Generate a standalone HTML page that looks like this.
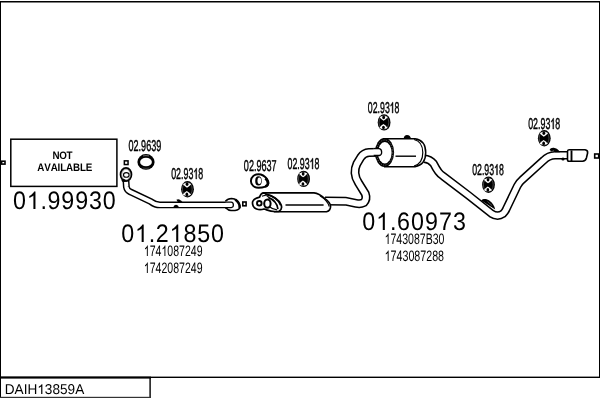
<!DOCTYPE html>
<html><head><meta charset="utf-8">
<style>
html,body{margin:0;padding:0;background:#fff;width:600px;height:400px;overflow:hidden}
svg{position:absolute;left:0;top:0;display:block;will-change:transform}
text{font-family:"Liberation Sans",sans-serif;fill:#000;text-rendering:geometricPrecision}
.lb{stroke:#000;stroke-width:0.45}
.lbp{stroke:#000;stroke-width:0.45;vector-effect:non-scaling-stroke}
</style></head><body>
<svg width="600" height="400" viewBox="0 0 600 400">
<!-- frame -->
<rect x="0" y="1" width="600" height="1.5" fill="#000"/>
<rect x="0" y="1" width="1" height="397" fill="#000"/>
<rect x="599" y="1" width="1" height="377" fill="#000"/>
<rect x="0" y="376.6" width="600" height="1.4" fill="#000"/>
<!-- bottom label box -->
<rect x="0" y="376.6" width="151" height="2" fill="#000"/>
<rect x="149.4" y="377" width="1.4" height="21" fill="#000"/>
<rect x="0" y="396.8" width="150.8" height="1.2" fill="#333"/>

<!-- NOT AVAILABLE box -->
<rect x="10.8" y="139.2" width="106.1" height="47.2" fill="none" stroke="#000" stroke-width="1.5"/>
<rect x="1.6" y="161.2" width="3.4" height="2.9" fill="none" stroke="#000" stroke-width="1.6"/>
<rect x="124.35" y="160.85" width="3.7" height="3.7" fill="none" stroke="#000" stroke-width="1.5"/>

<!--TEXT-->
<text transform="scale(0.92,1)" x="14.07 29.10 44.14 51.66 66.69 81.73 96.77 111.81" y="209" font-size="25.3">0 .99930</text>
<path transform="translate(26.78,209) scale(0.01137,0.01235)" d="M763,-0.0 L583,-0.0 L583,-1097.9 Q518,-1038.6 465,-1008.9 Q412,-979.2 359,-949.5 Q306,-919.9 221,-890.2 L221,-1056.8 Q372,-1124.7 428.5,-1173.0 Q485,-1221.4 541.5,-1269.7 Q598,-1318.1 645,-1409.0 L763,-1409.0 Z"/>
<text transform="scale(0.92,1)" x="131.73 146.76 161.79 169.30 184.33 199.36 214.39 229.42" y="242" font-size="25.3">0 .2 850</text>
<path transform="translate(135.02,242) scale(0.01137,0.01235)" d="M763,-0.0 L583,-0.0 L583,-1097.9 Q518,-1038.6 465,-1008.9 Q412,-979.2 359,-949.5 Q306,-919.9 221,-890.2 L221,-1056.8 Q372,-1124.7 428.5,-1173.0 Q485,-1221.4 541.5,-1269.7 Q598,-1318.1 645,-1409.0 L763,-1409.0 Z"/>
<path transform="translate(169.58,242) scale(0.01137,0.01235)" d="M763,-0.0 L583,-0.0 L583,-1097.9 Q518,-1038.6 465,-1008.9 Q412,-979.2 359,-949.5 Q306,-919.9 221,-890.2 L221,-1056.8 Q372,-1124.7 428.5,-1173.0 Q485,-1221.4 541.5,-1269.7 Q598,-1318.1 645,-1409.0 L763,-1409.0 Z"/>
<text transform="scale(0.92,1)" x="393.69 408.87 424.05 431.64 446.82 462.00 477.18 492.37" y="230" font-size="25.3">0 .60973</text>
<path transform="translate(376.16,230) scale(0.01137,0.01235)" d="M763,-0.0 L583,-0.0 L583,-1097.9 Q518,-1038.6 465,-1008.9 Q412,-979.2 359,-949.5 Q306,-919.9 221,-890.2 L221,-1056.8 Q372,-1124.7 428.5,-1173.0 Q485,-1221.4 541.5,-1269.7 Q598,-1318.1 645,-1409.0 L763,-1409.0 Z"/>
<text x="143.86" y="256" font-size="15.1" textLength="58.64" lengthAdjust="spacingAndGlyphs"> 74 087249</text>
<path transform="translate(143.86,256) scale(0.00515,0.00737)" d="M763,-0.0 L583,-0.0 L583,-1097.9 Q518,-1038.6 465,-1008.9 Q412,-979.2 359,-949.5 Q306,-919.9 221,-890.2 L221,-1056.8 Q372,-1124.7 428.5,-1173.0 Q485,-1221.4 541.5,-1269.7 Q598,-1318.1 645,-1409.0 L763,-1409.0 Z"/>
<path transform="translate(161.45,256) scale(0.00515,0.00737)" d="M763,-0.0 L583,-0.0 L583,-1097.9 Q518,-1038.6 465,-1008.9 Q412,-979.2 359,-949.5 Q306,-919.9 221,-890.2 L221,-1056.8 Q372,-1124.7 428.5,-1173.0 Q485,-1221.4 541.5,-1269.7 Q598,-1318.1 645,-1409.0 L763,-1409.0 Z"/>
<text x="143.86" y="273" font-size="15.1" textLength="58.64" lengthAdjust="spacingAndGlyphs"> 742087249</text>
<path transform="translate(143.86,273) scale(0.00515,0.00737)" d="M763,-0.0 L583,-0.0 L583,-1097.9 Q518,-1038.6 465,-1008.9 Q412,-979.2 359,-949.5 Q306,-919.9 221,-890.2 L221,-1056.8 Q372,-1124.7 428.5,-1173.0 Q485,-1221.4 541.5,-1269.7 Q598,-1318.1 645,-1409.0 L763,-1409.0 Z"/>
<text x="384.66" y="244" font-size="15.1" textLength="59.75" lengthAdjust="spacingAndGlyphs"> 743087B30</text>
<path transform="translate(384.66,244) scale(0.00514,0.00737)" d="M763,-0.0 L583,-0.0 L583,-1097.9 Q518,-1038.6 465,-1008.9 Q412,-979.2 359,-949.5 Q306,-919.9 221,-890.2 L221,-1056.8 Q372,-1124.7 428.5,-1173.0 Q485,-1221.4 541.5,-1269.7 Q598,-1318.1 645,-1409.0 L763,-1409.0 Z"/>
<text x="384.65" y="261" font-size="15.1" textLength="59.42" lengthAdjust="spacingAndGlyphs"> 743087288</text>
<path transform="translate(384.65,261) scale(0.00522,0.00737)" d="M763,-0.0 L583,-0.0 L583,-1097.9 Q518,-1038.6 465,-1008.9 Q412,-979.2 359,-949.5 Q306,-919.9 221,-890.2 L221,-1056.8 Q372,-1124.7 428.5,-1173.0 Q485,-1221.4 541.5,-1269.7 Q598,-1318.1 645,-1409.0 L763,-1409.0 Z"/>
<text x="4.78" y="394" font-size="14.2" textLength="79.44" lengthAdjust="spacingAndGlyphs">DAIH 3859A</text>
<path transform="translate(37.30,394) scale(0.00665,0.00693)" d="M763,-0.0 L583,-0.0 L583,-1097.9 Q518,-1038.6 465,-1008.9 Q412,-979.2 359,-949.5 Q306,-919.9 221,-890.2 L221,-1056.8 Q372,-1124.7 428.5,-1173.0 Q485,-1221.4 541.5,-1269.7 Q598,-1318.1 645,-1409.0 L763,-1409.0 Z"/>
<text transform="scale(0.9,1)" x="58.38 65.91 74.01" y="159" font-size="10.9" font-weight="bold">NOT</text>
<text transform="scale(0.9,1)" x="41.51 49.19 56.28 63.96 66.91 73.41 81.09 88.77 95.27" y="171" font-size="10.9" font-weight="bold">AVAILABLE</text>
<text x="128.55" y="151" font-size="15.7" textLength="32.68" lengthAdjust="spacingAndGlyphs" class="lb">02.9639</text>
<text x="171.15" y="179" font-size="15.7" textLength="32.03" lengthAdjust="spacingAndGlyphs" class="lb">02.93 8</text>
<path class="lbp" transform="translate(193.33,179) scale(0.00433,0.00767)" d="M763,-0.0 L583,-0.0 L583,-1097.9 Q518,-1038.6 465,-1008.9 Q412,-979.2 359,-949.5 Q306,-919.9 221,-890.2 L221,-1056.8 Q372,-1124.7 428.5,-1173.0 Q485,-1221.4 541.5,-1269.7 Q598,-1318.1 645,-1409.0 L763,-1409.0 Z"/>
<text x="243.85" y="171" font-size="15.7" textLength="32.71" lengthAdjust="spacingAndGlyphs" class="lb">02.9637</text>
<text x="287.55" y="169" font-size="15.7" textLength="31.93" lengthAdjust="spacingAndGlyphs" class="lb">02.93 8</text>
<path class="lbp" transform="translate(309.66,169) scale(0.00431,0.00767)" d="M763,-0.0 L583,-0.0 L583,-1097.9 Q518,-1038.6 465,-1008.9 Q412,-979.2 359,-949.5 Q306,-919.9 221,-890.2 L221,-1056.8 Q372,-1124.7 428.5,-1173.0 Q485,-1221.4 541.5,-1269.7 Q598,-1318.1 645,-1409.0 L763,-1409.0 Z"/>
<text x="367.86" y="113" font-size="15.7" textLength="31.62" lengthAdjust="spacingAndGlyphs" class="lb">02.93 8</text>
<path class="lbp" transform="translate(389.75,113) scale(0.00427,0.00767)" d="M763,-0.0 L583,-0.0 L583,-1097.9 Q518,-1038.6 465,-1008.9 Q412,-979.2 359,-949.5 Q306,-919.9 221,-890.2 L221,-1056.8 Q372,-1124.7 428.5,-1173.0 Q485,-1221.4 541.5,-1269.7 Q598,-1318.1 645,-1409.0 L763,-1409.0 Z"/>
<text x="472.16" y="175" font-size="15.7" textLength="31.72" lengthAdjust="spacingAndGlyphs" class="lb">02.93 8</text>
<path class="lbp" transform="translate(494.12,175) scale(0.00429,0.00767)" d="M763,-0.0 L583,-0.0 L583,-1097.9 Q518,-1038.6 465,-1008.9 Q412,-979.2 359,-949.5 Q306,-919.9 221,-890.2 L221,-1056.8 Q372,-1124.7 428.5,-1173.0 Q485,-1221.4 541.5,-1269.7 Q598,-1318.1 645,-1409.0 L763,-1409.0 Z"/>
<text x="528.15" y="129" font-size="15.7" textLength="32.03" lengthAdjust="spacingAndGlyphs" class="lb">02.93 8</text>
<path class="lbp" transform="translate(550.33,129) scale(0.00433,0.00767)" d="M763,-0.0 L583,-0.0 L583,-1097.9 Q518,-1038.6 465,-1008.9 Q412,-979.2 359,-949.5 Q306,-919.9 221,-890.2 L221,-1056.8 Q372,-1124.7 428.5,-1173.0 Q485,-1221.4 541.5,-1269.7 Q598,-1318.1 645,-1409.0 L763,-1409.0 Z"/>
<!--/TEXT-->



<!-- small connector squares -->
<rect x="242.8" y="202" width="3.3" height="3.8" fill="none" stroke="#000" stroke-width="1.6"/>
<rect x="594.7" y="154" width="4" height="4" fill="none" stroke="#000" stroke-width="1.6"/>

<!-- ring gasket 02.9639 -->
<ellipse cx="146" cy="161.9" rx="8.6" ry="7.8" fill="#000"/>
<ellipse cx="146" cy="162" rx="5.9" ry="4.3" fill="#fff"/>
<path d="M143,155.9 Q146,155.2 149,155.9" fill="none" stroke="#fff" stroke-width="0.7" opacity="0.6"/>
<path d="M142.5,168 Q146,168.8 149.5,168" fill="none" stroke="#fff" stroke-width="0.6" opacity="0.4"/>

<!-- pipe 1 -->
<path d="M126,181 L126.4,187 Q127,190.5 130.5,192 L151,201.7 Q155,204.9 160,204.9 L227,204.9" fill="none" stroke="#000" stroke-width="6.9"/>
<path d="M126,181 L126.4,187 Q127,190.5 130.5,192 L151,201.7 Q155,204.9 160,204.9 L227,204.9" fill="none" stroke="#fff" stroke-width="4.0"/>
<!-- front flange -->
<ellipse cx="126" cy="174.5" rx="5.5" ry="6.6" fill="#fff" stroke="#000" stroke-width="1.7"/>
<ellipse cx="126.1" cy="174.6" rx="4.2" ry="5.3" fill="none" stroke="#000" stroke-width="0.6" opacity="0.55"/>
<ellipse cx="126.3" cy="174.9" rx="2.8" ry="2.3" fill="#fff" stroke="#000" stroke-width="1.1"/>
<ellipse cx="123.6" cy="180.4" rx="2" ry="1.5" fill="#000"/>
<!-- gasket 02.9637 -->
<path d="M250.9,181 C250.9,176.5 254.8,174.2 258.5,174.2 C262,174.2 265.2,176.6 267.2,179.2 C269.4,182.2 268.6,185.6 265.6,186.6 C263.2,187.4 261,187.8 258.5,187.8 C254.3,187.8 250.9,185 250.9,181 Z" fill="#fff" stroke="#000" stroke-width="1.9"/>
<path d="M265.4,178.4 C268.8,181.6 268.8,185.2 265.2,186.4" fill="none" stroke="#000" stroke-width="2.6"/>
<ellipse cx="258.45" cy="180.9" rx="3.25" ry="4.6" fill="#000"/>
<ellipse cx="259.3" cy="180.8" rx="1.8" ry="3.3" fill="#fff"/>

<!-- front pipe rear flange -->
<path d="M225.4,201.3 C227,199.4 229.2,198.5 231.6,198.5 C235.6,198.6 238.6,201.6 240,206 C240.4,208.6 238,210.3 235,210.5 L231,210.5 C229,210.5 227.4,209.4 225.5,207.6" fill="#fff" stroke="#000" stroke-width="1.5"/>
<path d="M235.2,199.6 C238.6,202 240,205 239.5,208" fill="none" stroke="#000" stroke-width="2.4"/>
<path d="M225,202.2 L231.2,202.2 C234,202.4 234.2,207.3 231.2,207.6 L225,207.6" fill="none" stroke="#000" stroke-width="1.3"/>
<!-- front pipe brackets -->
<path d="M176.4,199.7 Q178.5,198.7 180.5,200.2 L182.8,202.2 L178,202.2 Z" fill="#000"/>
<path d="M173.2,207.5 Q173.8,204.8 176,204.8 Q178.3,204.8 179,207.5 Z" fill="#000"/>

<defs>
<g id="hg">
 <ellipse cx="0" cy="0" rx="6.4" ry="8.2" fill="#000"/>
 <path d="M-4.6,-5.4 Q-2.5,-2.6 -0.5,-1.6 Q1.6,-2.6 3.8,-5.4 Q-0.4,-7.4 -4.6,-5.4 Z" fill="#fff"/>
 <path d="M-4.8,5.5 Q-2.7,2.7 -0.7,1.7 Q1.4,2.7 3.6,5.5 Q-0.6,7.5 -4.8,5.5 Z" fill="#fff"/>
 <ellipse cx="-0.2" cy="0" rx="4.9" ry="6.8" fill="none" stroke="#fff" stroke-width="0.6" opacity="0.45"/>
 <ellipse cx="-0.45" cy="-5" rx="1.4" ry="1.8" fill="#000"/>
 <ellipse cx="-0.65" cy="5.1" rx="1.4" ry="1.8" fill="#000"/>
</g>
</defs>
<use href="#hg" x="187.5" y="189.3"/>
<use href="#hg" x="303.6" y="178.9"/>
<use href="#hg" x="384.1" y="122.4"/>
<use href="#hg" x="488.5" y="184.8"/>
<use href="#hg" x="544.3" y="138.3"/>


<!-- pipe 2: middle muffler to rear muffler -->
<path id="p2" d="M325,201 L345.5,201.2 L356,203.3 Q360.5,204.3 363.8,202.6 Q367.2,199 365.3,193.8 L358.6,183 Q355.3,178 355,173 Q354.8,168 356.8,164 L360.8,157.3 Q363.8,152.8 369,152.5 L380,152.3" fill="none" stroke="#000" stroke-width="9.0"/>
<path d="M325,201 L345.5,201.2 L356,203.3 Q360.5,204.3 363.8,202.6 Q367.2,199 365.3,193.8 L358.6,183 Q355.3,178 355,173 Q354.8,168 356.8,164 L360.8,157.3 Q363.8,152.8 369,152.5 L380,152.3" fill="none" stroke="#fff" stroke-width="5.9"/>

<!-- middle muffler -->
<path d="M262.6,192.9 L314,192.9 Q319,193.5 324.6,198.3 Q330,202 330.6,206 Q330.8,210.5 326.5,211.8 L273.8,211.8" fill="#fff" stroke="#000" stroke-width="1.6"/>
<path d="M320,195.8 Q327.5,200.5 329.3,206.5" fill="none" stroke="#000" stroke-width="1.2"/>
<path d="M285.5,204.9 L323.6,204.9" stroke="#000" stroke-width="1.5"/>
<path d="M263.4,192.9 C261.6,193.2 260.2,195 259.6,197.1 C256.2,197.8 253.6,199 252.7,201.5 C251.9,204.6 253.6,208 256.6,209 C259.1,209.9 262,209.6 264,209 C267,209.8 270,211.4 274.5,211.5 L279,211.3 C281.5,209.8 282,207 281,204.6 C279,199.5 272.5,195.4 266,194.2 C265,193.5 264.2,193 263.4,192.9 Z" fill="#fff" stroke="#000" stroke-width="1.7"/>
<path d="M266.5,194.6 C272.5,196.2 278.6,200 280.6,205.2" fill="none" stroke="#000" stroke-width="1.6"/>
<path d="M268.2,197.4 C273.5,199.5 277.3,203.6 277.9,209.2" fill="none" stroke="#000" stroke-width="1.7"/>
<path d="M262,196.2 C264.5,195.2 267.5,195.8 268.5,197.2" fill="none" stroke="#000" stroke-width="1.2"/>
<circle cx="259.3" cy="203.3" r="2.3" fill="#fff" stroke="#000" stroke-width="1.9"/>
<ellipse cx="267.4" cy="203.6" rx="3.2" ry="4.2" fill="#fff" stroke="#000" stroke-width="2"/>
<path d="M269,206.5 C271.5,208.5 274,209.5 277,209.8" fill="none" stroke="#000" stroke-width="1.2"/>

<!-- tail pipe -->
<path d="M424,158.7 Q430,159 433.5,163.5 Q436,168.5 438.5,171.8 Q440,174 443,176 L468.4,195.3 L491.5,213.6 Q497.5,217.5 503,213.8 Q505,212 506.3,209 L517.3,186 Q519,182.5 522,180 L543.5,160.5 Q548.5,155.5 555,155.3 L569,155.3" fill="none" stroke="#000" stroke-width="8.6"/>
<path d="M424,158.7 Q430,159 433.5,163.5 Q436,168.5 438.5,171.8 Q440,174 443,176 L468.4,195.3 L491.5,213.6 Q497.5,217.5 503,213.8 Q505,212 506.3,209 L517.3,186 Q519,182.5 522,180 L543.5,160.5 Q548.5,155.5 555,155.3 L569,155.3" fill="none" stroke="#fff" stroke-width="5.5"/>
<!-- tail pipe brackets -->
<path d="M481.3,200.4 C483,198.4 486.6,198.4 489.6,200.7 C492.6,203 494.6,206 495.2,209.6 Z" fill="#000"/>
<path d="M487.5,201.5 L492,205.5" stroke="#fff" stroke-width="0.6" opacity="0.5"/>
<path d="M549.6,150 C550.2,148 552.5,147.4 554.5,147.9 C557,148.4 559,149.8 560,152.3 L555,152.3 C554.6,150.6 552.6,150.3 551.6,151.5 Z" fill="#000"/>
<ellipse cx="563" cy="159" rx="1.6" ry="1.5" fill="#000"/>
<!-- tail tip -->
<path d="M569,149.8 L585,149.8 Q588,150.3 587.6,153 L586.4,158 Q585.5,161.2 582.5,161.3 L569,161.3 Q567.5,161.3 567.5,159.5 L567.5,151.5 Q567.5,149.8 569,149.8 Z" fill="#fff" stroke="#000" stroke-width="1.6"/>
<path d="M571.5,150.4 L571.5,161" stroke="#000" stroke-width="1.9"/>


<!-- rear muffler -->
<path d="M383,138.7 L415,138.7 Q425.7,140.3 425.7,152.6 Q425.7,165 415,166.8 L384,166.8" fill="#fff" stroke="#000" stroke-width="1.5"/>
<path d="M414,139.5 Q422.8,141.5 422.8,152.6 Q422.8,163.8 414,166" fill="none" stroke="#000" stroke-width="1.2"/>
<path d="M395.5,156.2 L416,156.2" stroke="#000" stroke-width="1.4"/>
<path d="M403.5,139 Q404,135 407,135 Q410.5,135 411,139 Z" fill="#000"/>
<ellipse cx="384.5" cy="152.5" rx="9.6" ry="14.5" fill="#000"/>
<ellipse cx="384.6" cy="152.6" rx="8.2" ry="12.6" fill="none" stroke="#fff" stroke-width="0.5" stroke-dasharray="1.2 1.2" opacity="0.7"/>
<ellipse cx="384.8" cy="152.8" rx="6.8" ry="10.7" fill="#fff"/>
<path d="M373.6,148.6 L379.3,148.6 C382.3,149.2 382.6,155.1 379.3,155.5 L373.6,155.5" fill="#fff" stroke="#000" stroke-width="1.3"/>

</svg>
</body></html>
